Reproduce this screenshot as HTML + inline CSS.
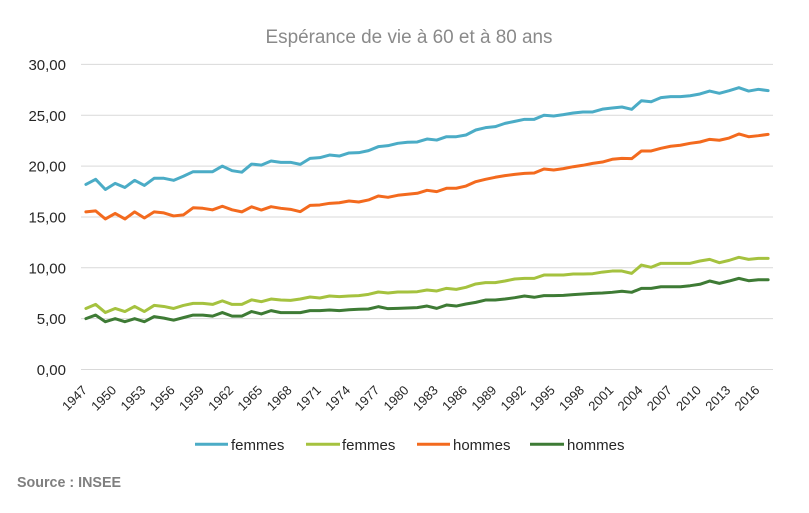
<!DOCTYPE html>
<html>
<head>
<meta charset="utf-8">
<style>
  html,body{margin:0;padding:0;background:#fff;}
  svg{display:block;}
  text{font-family:"Liberation Sans","DejaVu Sans",sans-serif;}
</style>
</head>
<body>
<svg width="809" height="513" viewBox="0 0 809 513" xmlns="http://www.w3.org/2000/svg">
  <rect width="809" height="513" fill="#ffffff"/>
  <!-- title -->
  <text x="409" y="43" font-size="19" fill="#8a8a8a" text-anchor="middle" textLength="287" lengthAdjust="spacingAndGlyphs">Espérance de vie à 60 et à 80 ans</text>

  <!-- gridlines -->
  <g stroke="#d9d9d9" stroke-width="1">
    <line x1="81" y1="64.4" x2="773" y2="64.4"/>
    <line x1="81" y1="115.25" x2="773" y2="115.25"/>
    <line x1="81" y1="166.1" x2="773" y2="166.1"/>
    <line x1="81" y1="216.95" x2="773" y2="216.95"/>
    <line x1="81" y1="267.8" x2="773" y2="267.8"/>
    <line x1="81" y1="318.65" x2="773" y2="318.65"/>
    <line x1="81" y1="369.5" x2="773" y2="369.5"/>
  </g>

  <!-- y labels -->
  <g font-size="15" fill="#262626" text-anchor="end">
    <text x="66" y="70">30,00</text>
    <text x="66" y="121">25,00</text>
    <text x="66" y="171.6">20,00</text>
    <text x="66" y="222.5">15,00</text>
    <text x="66" y="273.3">10,00</text>
    <text x="66" y="324.2">5,00</text>
    <text x="66" y="375">0,00</text>
  </g>

  <!-- x labels -->
  <g font-size="13" fill="#262626" text-anchor="end">
    <text transform="translate(87.9,391) rotate(-45)">1947</text>
    <text transform="translate(117.1,391) rotate(-45)">1950</text>
    <text transform="translate(146.4,391) rotate(-45)">1953</text>
    <text transform="translate(175.6,391) rotate(-45)">1956</text>
    <text transform="translate(204.9,391) rotate(-45)">1959</text>
    <text transform="translate(234.1,391) rotate(-45)">1962</text>
    <text transform="translate(263.3,391) rotate(-45)">1965</text>
    <text transform="translate(292.6,391) rotate(-45)">1968</text>
    <text transform="translate(321.8,391) rotate(-45)">1971</text>
    <text transform="translate(351.1,391) rotate(-45)">1974</text>
    <text transform="translate(380.3,391) rotate(-45)">1977</text>
    <text transform="translate(409.5,391) rotate(-45)">1980</text>
    <text transform="translate(438.8,391) rotate(-45)">1983</text>
    <text transform="translate(468.0,391) rotate(-45)">1986</text>
    <text transform="translate(497.3,391) rotate(-45)">1989</text>
    <text transform="translate(526.5,391) rotate(-45)">1992</text>
    <text transform="translate(555.7,391) rotate(-45)">1995</text>
    <text transform="translate(585.0,391) rotate(-45)">1998</text>
    <text transform="translate(614.2,391) rotate(-45)">2001</text>
    <text transform="translate(643.5,391) rotate(-45)">2004</text>
    <text transform="translate(672.7,391) rotate(-45)">2007</text>
    <text transform="translate(701.9,391) rotate(-45)">2010</text>
    <text transform="translate(731.2,391) rotate(-45)">2013</text>
    <text transform="translate(760.4,391) rotate(-45)">2016</text>
  </g>

  <!-- series -->
  <g transform="translate(85.9,369.5) scale(9.746,-10.17)" fill="none" stroke-linejoin="round" stroke-linecap="round">
    <!-- femmes 60 -->
    <polyline vector-effect="non-scaling-stroke" stroke="#4bacc6" stroke-width="3" points="0,18.2 1,18.7 2,17.7 3,18.3 4,17.9 5,18.6 6,18.1 7,18.8 8,18.8 9,18.6 10,19.0 11,19.45 12,19.45 13,19.45 14,20.0 15,19.55 16,19.4 17,20.2 18,20.1 19,20.5 20,20.37 21,20.37 22,20.17 23,20.76 24,20.83 25,21.09 26,20.99 27,21.29 28,21.32 29,21.52 30,21.91 31,22.01 32,22.24 33,22.34 34,22.37 35,22.66 36,22.56 37,22.89 38,22.89 39,23.06 40,23.55 41,23.78 42,23.88 43,24.2 44,24.4 45,24.6 46,24.6 47,25.0 48,24.93 49,25.06 50,25.22 51,25.32 52,25.32 53,25.6 54,25.71 55,25.81 56,25.58 57,26.43 58,26.33 59,26.73 60,26.83 61,26.83 62,26.92 63,27.09 64,27.38 65,27.16 66,27.42 67,27.71 68,27.38 69,27.55 70,27.42"/>
    <!-- femmes 80 -->
    <polyline vector-effect="non-scaling-stroke" stroke="#a5c23f" stroke-width="3" points="0,6.0 1,6.4 2,5.6 3,6.0 4,5.7 5,6.2 6,5.7 7,6.3 8,6.2 9,6.0 10,6.3 11,6.5 12,6.5 13,6.4 14,6.75 15,6.4 16,6.4 17,6.85 18,6.67 19,6.93 20,6.83 21,6.8 22,6.93 23,7.13 24,7.03 25,7.23 26,7.16 27,7.23 28,7.26 29,7.39 30,7.62 31,7.52 32,7.62 33,7.62 34,7.65 35,7.82 36,7.72 37,7.98 38,7.88 39,8.08 40,8.41 41,8.54 42,8.54 43,8.7 44,8.9 45,8.96 46,8.96 47,9.29 48,9.29 49,9.29 50,9.39 51,9.39 52,9.42 53,9.58 54,9.68 55,9.68 56,9.45 57,10.27 58,10.05 59,10.44 60,10.44 61,10.44 62,10.44 63,10.67 64,10.83 65,10.5 66,10.73 67,11.03 68,10.83 69,10.93 70,10.93"/>
    <!-- hommes 60 -->
    <polyline vector-effect="non-scaling-stroke" stroke="#f36a1e" stroke-width="3" points="0,15.5 1,15.6 2,14.8 3,15.35 4,14.8 5,15.5 6,14.9 7,15.5 8,15.4 9,15.1 10,15.2 11,15.9 12,15.85 13,15.7 14,16.05 15,15.7 16,15.5 17,16.0 18,15.68 19,16.01 20,15.85 21,15.75 22,15.52 23,16.14 24,16.18 25,16.34 26,16.4 27,16.57 28,16.47 29,16.67 30,17.06 31,16.93 32,17.13 33,17.23 34,17.33 35,17.62 36,17.49 37,17.82 38,17.82 39,18.04 40,18.47 41,18.7 42,18.9 43,19.06 44,19.19 45,19.29 46,19.32 47,19.72 48,19.62 49,19.75 50,19.94 51,20.08 52,20.27 53,20.4 54,20.67 55,20.76 56,20.73 57,21.49 58,21.49 59,21.75 60,21.95 61,22.05 62,22.24 63,22.37 64,22.63 65,22.54 66,22.76 67,23.16 68,22.89 69,22.99 70,23.12"/>
    <!-- hommes 80 -->
    <polyline vector-effect="non-scaling-stroke" stroke="#3e7b35" stroke-width="3" points="0,5.0 1,5.35 2,4.7 3,5.0 4,4.7 5,5.0 6,4.7 7,5.2 8,5.05 9,4.85 10,5.1 11,5.35 12,5.35 13,5.25 14,5.6 15,5.25 16,5.25 17,5.7 18,5.46 19,5.79 20,5.59 21,5.59 22,5.59 23,5.79 24,5.79 25,5.85 26,5.79 27,5.88 28,5.92 29,5.95 30,6.18 31,5.98 32,6.01 33,6.05 34,6.08 35,6.24 36,6.01 37,6.34 38,6.24 39,6.44 40,6.6 41,6.83 42,6.83 43,6.93 44,7.06 45,7.23 46,7.1 47,7.26 48,7.26 49,7.29 50,7.36 51,7.42 52,7.49 53,7.52 54,7.59 55,7.69 56,7.59 57,7.98 58,7.98 59,8.14 60,8.14 61,8.14 62,8.24 63,8.38 64,8.7 65,8.47 66,8.7 67,8.96 68,8.73 69,8.83 70,8.83"/>
  </g>

  <!-- legend -->
  <g stroke-width="3" stroke-linecap="butt">
    <line x1="195" y1="444.3" x2="228" y2="444.3" stroke="#4bacc6"/>
    <line x1="306" y1="444.3" x2="340" y2="444.3" stroke="#a5c23f"/>
    <line x1="417" y1="444.3" x2="450" y2="444.3" stroke="#f36a1e"/>
    <line x1="530" y1="444.3" x2="564" y2="444.3" stroke="#3e7b35"/>
  </g>
  <g font-size="15" fill="#262626">
    <text x="231" y="450">femmes</text>
    <text x="342" y="450">femmes</text>
    <text x="453" y="450">hommes</text>
    <text x="567" y="450">hommes</text>
  </g>

  <!-- source -->
  <text x="17" y="487" font-size="15" font-weight="bold" fill="#7f7f7f" textLength="104" lengthAdjust="spacingAndGlyphs">Source : INSEE</text>
</svg>
</body>
</html>
